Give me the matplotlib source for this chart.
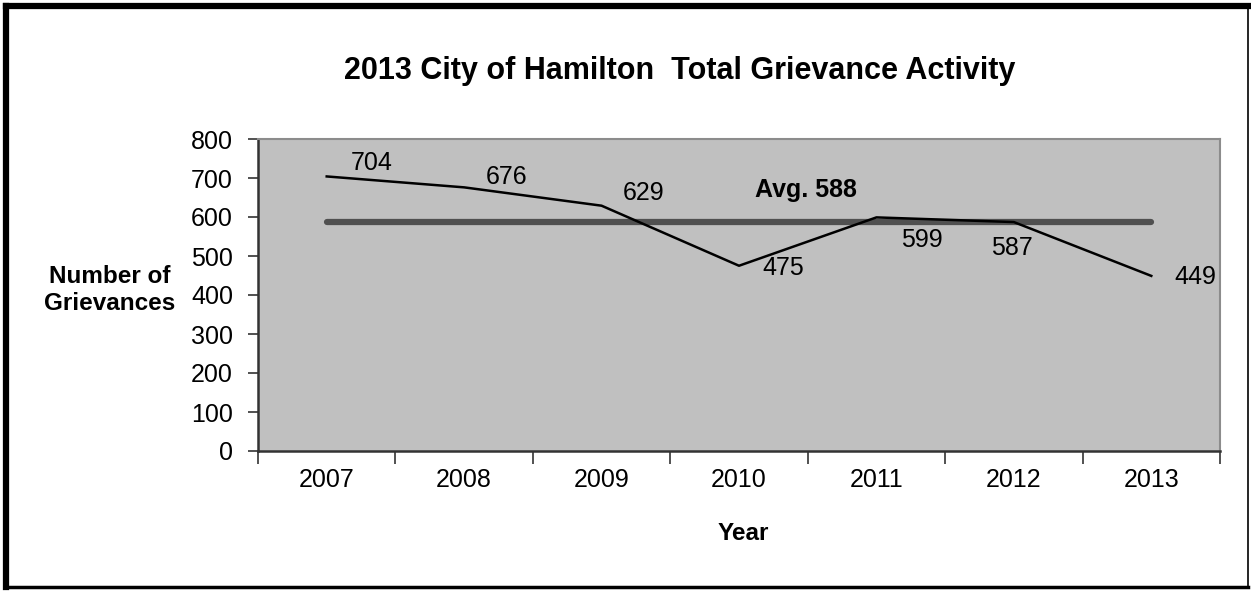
import matplotlib.pyplot as plt
from matplotlib.lines import Line2D

plt.rcParams['font.family'] = ['Liberation Sans', 'DejaVu Sans']

years = ['2007', '2008', '2009', '2010', '2011', '2012', '2013']
grievances = [704, 676, 629, 475, 599, 587, 449]
average = 588
yticks = [0, 100, 200, 300, 400, 500, 600, 700, 800]

# hand placed label offsets (pixels) like the original
label_offsets = [(45, 13), (42, 10), (42, 13), (44, -2), (45, -23), (-2, -26), (44, -1)]


def main():
    fig = plt.figure(figsize=(12.51, 5.92), dpi=100)
    ax = fig.add_axes([258/1251, 141/592, 962/1251, 312/592])
    ax.set_facecolor('#c0c0c0')

    x = list(range(len(years)))
    ax.plot(x, [average]*len(x), color='#505050', linewidth=4.5, solid_capstyle='round', zorder=2)
    ax.plot(x, grievances, color='black', linewidth=1.8, zorder=3)

    for xi, v, off in zip(x, grievances, label_offsets):
        ax.annotate(str(v), (xi, v), xytext=off, textcoords='offset pixels',
                    ha='center', va='center', fontsize=18)
    ax.annotate('Avg. %d' % average, (3.5, average), xytext=(-2, 32), textcoords='offset pixels',
                ha='center', va='center', fontsize=18, fontweight='bold')

    ax.set_xlim(-0.5, len(years) - 0.5)
    ax.set_ylim(0, 800)
    ax.set_yticks(yticks)
    ax.tick_params(axis='y', labelsize=18, length=7, width=1.2, color='#333333', pad=11)
    ax.set_xticks([i - 0.5 for i in range(len(years) + 1)])
    ax.set_xticklabels([])
    ax.tick_params(axis='x', which='major', length=9, width=1.2, color='#333333')
    ax.set_xticks(x, minor=True)
    ax.set_xticklabels(years, minor=True)
    ax.tick_params(axis='x', which='minor', length=0, labelsize=18, pad=12)

    for s in ['left', 'bottom']:
        ax.spines[s].set_color('#333333')
        ax.spines[s].set_linewidth(1.8)
    for s in ['top', 'right']:
        ax.spines[s].set_color('#8c8c8c')
        ax.spines[s].set_linewidth(1.5)

    fig.text(680/1251, 1 - 71/592, '2013 City of Hamilton  Total Grievance Activity',
             ha='center', va='center', fontsize=22, fontweight='bold')
    fig.text(110/1251, 1 - 290/592, 'Number of\nGrievances', ha='center', va='center',
             fontsize=17.5, fontweight='bold', linespacing=1.2)
    fig.text(743/1251, 1 - 533/592, 'Year', ha='center', va='center',
             fontsize=17.5, fontweight='bold')

    # outer chart frame: heavy left/top/bottom, thin right
    L, R, B, T = 6/1251, 1248/1251, 5/592, 586/592
    frame = [((L, L), (B, T), 4.5), ((L, R), (T, T), 4.5),
             ((L, R), (B, B), 2.5), ((R, R), (B, T), 1.2)]
    for xs, ys, lw in frame:
        fig.add_artist(Line2D(xs, ys, transform=fig.transFigure, color='black',
                              linewidth=lw, solid_capstyle='projecting'))

    fig.savefig('out.png', dpi=100)


if __name__ == '__main__':
    main()
